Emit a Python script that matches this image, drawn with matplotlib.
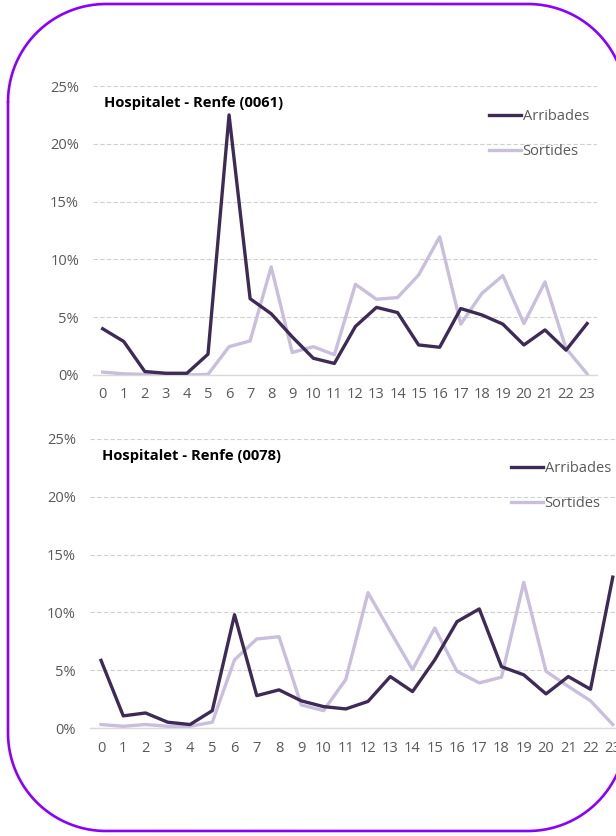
import numpy as np
import matplotlib.pyplot as plt
from matplotlib.ticker import FuncFormatter

hores = list(range(24))

# Hospitalet - Renfe (0061)
arribades_0061 = [4.0, 2.9, 0.3, 0.15, 0.15, 1.8, 22.5, 6.6, 5.3, 3.3, 1.45, 1.0,
                  4.2, 5.85, 5.4, 2.6, 2.4, 5.75, 5.2, 4.4, 2.6, 3.9, 2.15, 4.45]
sortides_0061 = [0.25, 0.1, 0.05, 0.0, 0.0, 0.05, 2.45, 2.95, 9.35, 1.95, 2.45, 1.75,
                 7.85, 6.55, 6.7, 8.65, 11.95, 4.4, 7.05, 8.6, 4.45, 8.05, 2.3, 0.1]

# Hospitalet - Renfe (0078)
arribades_0078 = [5.85, 1.05, 1.3, 0.5, 0.3, 1.5, 9.8, 2.8, 3.3, 2.35, 1.85, 1.65,
                  2.3, 4.45, 3.15, 5.9, 9.2, 10.3, 5.3, 4.6, 2.95, 4.45, 3.35, 13.05]
sortides_0078 = [0.3, 0.15, 0.3, 0.15, 0.15, 0.5, 5.9, 7.7, 7.9, 2.0, 1.5, 4.2,
                 11.7, 8.35, 5.05, 8.65, 4.9, 3.9, 4.4, 12.6, 4.9, 3.6, 2.35, 0.3]

fosc = '#3d2b55'
clar = '#c9bedc'
gris = '#595959'

plt.rcParams['font.family'] = ['Open Sans', 'DejaVu Sans']

W, H = 616, 836
fig = plt.figure(figsize=(W / 100, H / 100), dpi=100)

# marc arrodonit (en píxels, origen a dalt a l'esquerra)
fons = fig.add_axes([0, 0, 1, 1])
fons.set_xlim(0, W)
fons.set_ylim(H, 0)
fons.axis('off')
x0, y0, x1, y1, r = 8, 4, 626, 831, 98
cantons = [(x0 + r, y0 + r, 180, 270), (x1 - r, y0 + r, 270, 360),
           (x1 - r, y1 - r, 0, 90), (x0 + r, y1 - r, 90, 180)]
px, py = [], []
for cx, cy, a0, a1 in cantons:
    t = np.radians(np.linspace(a0, a1, 60))
    px += list(cx + r * np.cos(t))
    py += list(cy + r * np.sin(t))
px.append(px[0])
py.append(py[0])
fons.plot(px, py, color='#8a00ff', linewidth=1.9, clip_on=False,
          solid_joinstyle='round', solid_capstyle='round')

def grafic(ax, arr, sor, titol, xlim, leg_pos):
    ax.plot(hores, sor, color=clar, linewidth=2.4, label='Sortides', zorder=3)
    ax.plot(hores, arr, color=fosc, linewidth=2.4, label='Arribades', zorder=4)
    ax.set_xlim(*xlim)
    ax.set_ylim(0, 25)
    ax.set_yticks([0, 5, 10, 15, 20, 25])
    ax.yaxis.set_major_formatter(FuncFormatter(lambda v, p: f'{v:.0f}%'))
    ax.set_xticks(hores)
    ax.grid(axis='y', color='#d0d0d0', linestyle=(0, (4, 2)), linewidth=0.8)
    ax.set_axisbelow(True)
    for s in ['top', 'right', 'left']:
        ax.spines[s].set_visible(False)
    ax.spines['bottom'].set_color('#d9d9d9')
    ax.spines['bottom'].set_linewidth(1.0)
    ax.tick_params(length=0, colors=gris, labelsize=10.5)
    ax.tick_params(axis='x', pad=9)
    ax.tick_params(axis='y', pad=10)
    ax.text(0.022, 0.94, titol, transform=ax.transAxes, fontsize=10.6,
            fontweight='bold', color='black', va='center', ha='left')
    h, l = ax.get_legend_handles_labels()
    ax.legend(h[::-1], l[::-1], frameon=False, loc='upper left',
              bbox_to_anchor=leg_pos, bbox_transform=fig.transFigure,
              handlelength=2.2, handletextpad=0.1, labelspacing=1.35,
              fontsize=10.5, labelcolor=gris)

ax1 = fig.add_axes([93 / W, 1 - 375 / H, 504 / W, 289 / H])
grafic(ax1, arribades_0061, sortides_0061, 'Hospitalet - Renfe (0061)',
       (-0.46, 23.47), (476 / W, 1 - 96 / H))

ax2 = fig.add_axes([89.9 / W, 1 - 728 / H, 534 / W, 289 / H])
grafic(ax2, arribades_0078, sortides_0078, 'Hospitalet - Renfe (0078)',
       (-0.5, 23.5), (498 / W, 1 - 448 / H))

fig.savefig('out.png', dpi=100)
